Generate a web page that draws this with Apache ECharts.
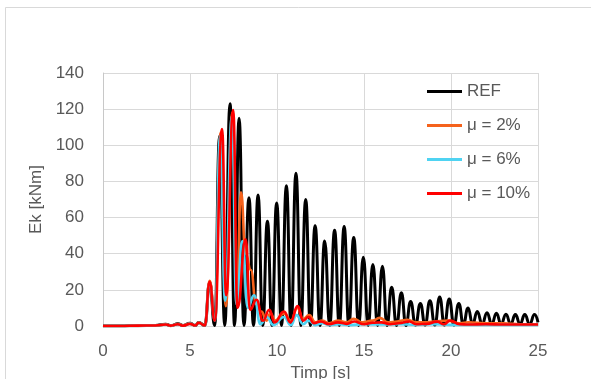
<!DOCTYPE html>
<html><head><meta charset="utf-8">
<script src="https://cdn.jsdelivr.net/npm/echarts@6/dist/echarts.min.js"></script>
<style>html,body{margin:0;padding:0;background:#fff}#c{width:591px;height:379px}</style>
</head><body><div id="c"></div>
<script>
const seriesNames = ['REF', 'μ = 2%', 'μ = 6%', 'μ = 10%'];
const xTicks = [0, 5, 10, 15, 20, 25];
const yTicks = [0, 20, 40, 60, 80, 100, 120, 140];

const refT = [0,1,2,3,3.6,3.9,4.3,4.6,5.0,5.3,5.5,5.85,6.13,6.42,6.70,7.00,7.30,7.56,7.82,8.10,8.39,8.65,8.91,9.18,9.45,9.71,9.98,10.26,10.54,10.81,11.09,11.37,11.65,11.92,12.19,12.47,12.74,13.03,13.31,13.58,13.86,14.13,14.41,14.69,14.96,15.24,15.51,15.78,16.06,16.32,16.59,16.87,17.15,17.41,17.68,17.96,18.24,18.51,18.79,19.07,19.35,19.62,19.90,20.17,20.45,20.71,20.98,21.24,21.51,21.79,22.07,22.34,22.61,22.88,23.16,23.43,23.70,23.97,24.24,24.52,24.80,25.0];
const refV = [0,0,0.2,0.3,1,0.2,1.2,0.3,1.5,0.3,2,0.3,24,0.3,105,0.3,123,0.3,115,0.3,71,0.3,72.5,0.3,58,0.3,68,0.3,77.6,0.3,84.5,0.3,70,0.3,55.5,0.3,47,0.3,53,0.3,55,0.3,49,0.3,38,0.3,34,0.3,33,0.3,21.4,0.3,18.4,0.3,13.5,0.5,12.5,0.5,14,0.5,16,0.5,15,0.5,12.5,0.8,10,1,8,1,7.4,1,7,1,6.5,1,6.3,1,6.3,1,6.3,2];

const mu2T = [0,1,2,3,3.6,3.9,4.3,4.6,5.0,5.3,5.5,5.85,6.13,6.43,6.76,7.06,7.43,7.69,7.93,8.2,8.5,8.8,9.1,9.4,9.62,9.9,10.4,10.8,11.17,11.5,11.85,12.2,12.6,13.0,13.5,14.0,14.4,14.9,15.5,15.9,16.4,16.9,17.5,18.0,18.5,19.0,19.8,20.5,21.0,22.0,23.0,24.0,25.0];
const mu2V = [0,0,0.2,0.3,0.9,0.2,1.1,0.3,1.4,0.3,1.9,0.3,25,4,107,11,118,16,74,40,31,12,8,3,7,3,7,3,10,4,6,2,3,1.5,3,2,4,2,3,4.5,2,2.5,3.5,2,2,2.5,3,1.5,2,1.5,1.5,1,1];

const mu6T = [0,1,2,3,3.6,3.9,4.3,4.6,5.0,5.3,5.5,5.85,6.13,6.43,6.73,7.02,7.41,7.67,8.01,8.32,8.68,9.05,9.4,9.8,10.4,10.8,11.12,11.5,11.82,12.2,12.6,13.0,13.6,14.2,15.0,16.0,17.0,18.0,19.0,20.0,22.0,25.0];
const mu6V = [0,0,0.2,0.3,0.8,0.2,1,0.3,1.3,0.3,1.8,0.3,24,3,105,14,116,12,47,10,17,1,5,0.5,5,0.5,6,1,3,0.5,1.5,0.5,1,0.5,1,0.8,1,0.6,1,0.6,0.6,0.6];

const mu10T = [0,1,2,3,3.6,3.9,4.3,4.6,5.0,5.3,5.5,5.85,6.13,6.42,6.84,7.08,7.48,7.73,8.2,8.45,8.82,9.2,9.56,9.86,10.4,10.77,11.19,11.5,11.82,12.12,12.5,13.0,13.5,14.0,14.45,15.0,15.5,16.0,16.5,17.0,17.6,18.0,18.6,19.2,19.6,19.95,20.5,21.0,22.0,23.0,24.0,25.0];
const mu10V = [0,0,0.2,0.3,0.8,0.2,1,0.2,1.2,0.3,1.8,0.3,24.5,3,109,17,119.5,10,48,9,14.5,3,9,2,8,2,11,3,5,1.5,2.5,1,2,1.2,2.5,1,1.8,2,1,1.5,2.5,1,1.2,2.4,1,3,1,0.8,1,0.8,0.8,0.8];

const colors = ['#000000', '#F5621C', '#4FD3F2', '#FF0000'];
const widths = [3, 2.6, 2.6, 2.6];
const dataSets = [[refT, refV], [mu2T, mu2V], [mu6T, mu6V], [mu10T, mu10V]];

const FONT = 'Liberation Sans';
const TXT = '#595959';

const chart = echarts.init(document.getElementById('c'), null, {renderer: 'canvas'});
chart.setOption({
  animation: false,
  backgroundColor: '#ffffff',
  graphic: [{
    type: 'rect', silent: true, z: -10,
    shape: {x: 5.5, y: 7.5, width: 700, height: 500},
    style: {fill: 'none', stroke: '#d9d9d9', lineWidth: 1}
  }],
  grid: {left: 103, right: 53, top: 73, bottom: 53, containLabel: false, outerBoundsMode: 'none'},
  legend: {
    orient: 'vertical', left: 422, top: 78,
    data: seriesNames,
    icon: 'rect', itemWidth: 35, itemHeight: 3, itemGap: 17,
    textStyle: {fontFamily: FONT, fontSize: 17, color: TXT, lineHeight: 17}
  },
  xAxis: {
    type: 'value', min: xTicks[0], max: xTicks[xTicks.length - 1], interval: 5,
    name: 'Timp [s]', nameLocation: 'middle', nameGap: 36,
    nameTextStyle: {fontFamily: FONT, fontSize: 17, color: TXT},
    axisLine: {show: true, lineStyle: {color: '#d9d9d9'}},
    axisTick: {show: false},
    axisLabel: {fontFamily: FONT, fontSize: 17, color: TXT, margin: 17},
    splitLine: {show: true, lineStyle: {color: '#d9d9d9', width: 1}}
  },
  yAxis: {
    type: 'value', min: yTicks[0], max: yTicks[yTicks.length - 1], interval: 20,
    name: 'Ek [kNm]', nameLocation: 'middle', nameGap: 57,
    nameTextStyle: {fontFamily: FONT, fontSize: 17, color: TXT},
    axisLine: {show: true, lineStyle: {color: '#c8c8c8'}},
    axisTick: {show: false},
    axisLabel: {fontFamily: FONT, fontSize: 17, color: TXT, margin: 19},
    splitLine: {show: true, lineStyle: {color: '#d9d9d9', width: 1}}
  },
  series: seriesNames.map((n, i) => ({
    name: n, type: 'line', symbol: 'none', smooth: 0.5, smoothMonotone: 'x',
    color: colors[i],
    lineStyle: {color: colors[i], width: widths[i]},
    data: dataSets[i][0].map((t, k) => [t, dataSets[i][1][k]])
  }))
});
</script>
</body></html>
